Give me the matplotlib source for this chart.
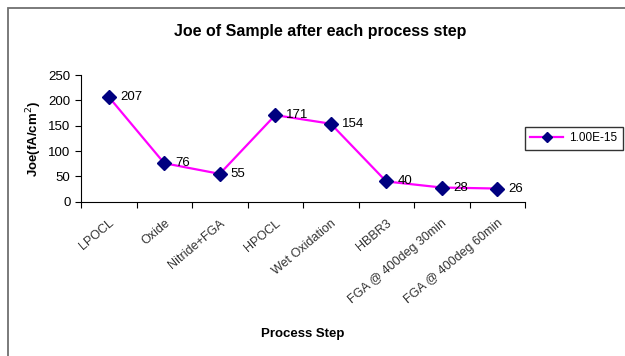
import matplotlib.pyplot as plt
from matplotlib.patches import Rectangle

plt.rcParams['font.family'] = ['Liberation Sans', 'DejaVu Sans']

# process steps and measured Joe values
steps = ['LPOCL', 'Oxide', 'Nitride+FGA', 'HPOCL', 'Wet Oxidation', 'HBBR3',
         'FGA @ 400deg 30min', 'FGA @ 400deg 60min']
joe = [207, 76, 55, 171, 154, 40, 28, 26]
series_name = '1.00E-15'

fig = plt.figure(figsize=(6.25, 3.56), dpi=100)

# grey frame around the chart area
fig.patches.append(Rectangle((8 / 625, -0.1), 1.2, 1 - 8 / 356 + 0.1,
                             transform=fig.transFigure, fill=False,
                             edgecolor='#707070', linewidth=1.3))

ax = fig.add_axes([0.1296, 0.4334, 0.7104, 0.3556])

x = list(range(len(steps)))
ax.plot(x, joe, color='#ff00ff', linewidth=1.6, marker='D', markersize=7.5,
        markerfacecolor='#000080', markeredgecolor='#000080', label=series_name)

# value labels to the right of each point
for xi, v in zip(x, joe):
    ax.annotate(str(v), (xi, v), xytext=(8, 0), textcoords='offset points',
                va='center', ha='left', fontsize=9.5)

ax.set_xlim(-0.5, len(steps) - 0.5)
ax.set_ylim(0, 250)
ax.set_yticks(range(0, 251, 50))
ax.tick_params(axis='y', labelsize=9.5, length=4, direction='out')

# ticks sit between categories, labels at category centres
ax.set_xticks([i - 0.5 for i in range(len(steps) + 1)])
ax.set_xticklabels([])
ax.set_xticks(x, minor=True)
ax.set_xticklabels(steps, minor=True, rotation=40, ha='right',
                   rotation_mode='anchor', fontsize=9, color='#333333')
ax.tick_params(axis='x', which='major', length=4, direction='out')
ax.tick_params(axis='x', which='minor', length=0, pad=11)

for side in ['top', 'right']:
    ax.spines[side].set_visible(False)

ax.set_title('Joe of Sample after each process step', fontsize=11.5,
             fontweight='bold', x=0.538, pad=28)
ax.set_ylabel('Joe(fA/cm$^2$)', fontsize=9.5, fontweight='bold', labelpad=3)
ax.set_xlabel('Process Step', fontsize=9.5, fontweight='bold', labelpad=16)

leg = ax.legend(loc='center left', bbox_to_anchor=(1.0, 0.5), fontsize=8.5,
                frameon=True, fancybox=False, edgecolor='black',
                handlelength=2.8, borderpad=0.45, borderaxespad=0,
                markerscale=0.7, handletextpad=0.5)
leg.get_frame().set_linewidth(1)

fig.savefig('out.png', dpi=100)
